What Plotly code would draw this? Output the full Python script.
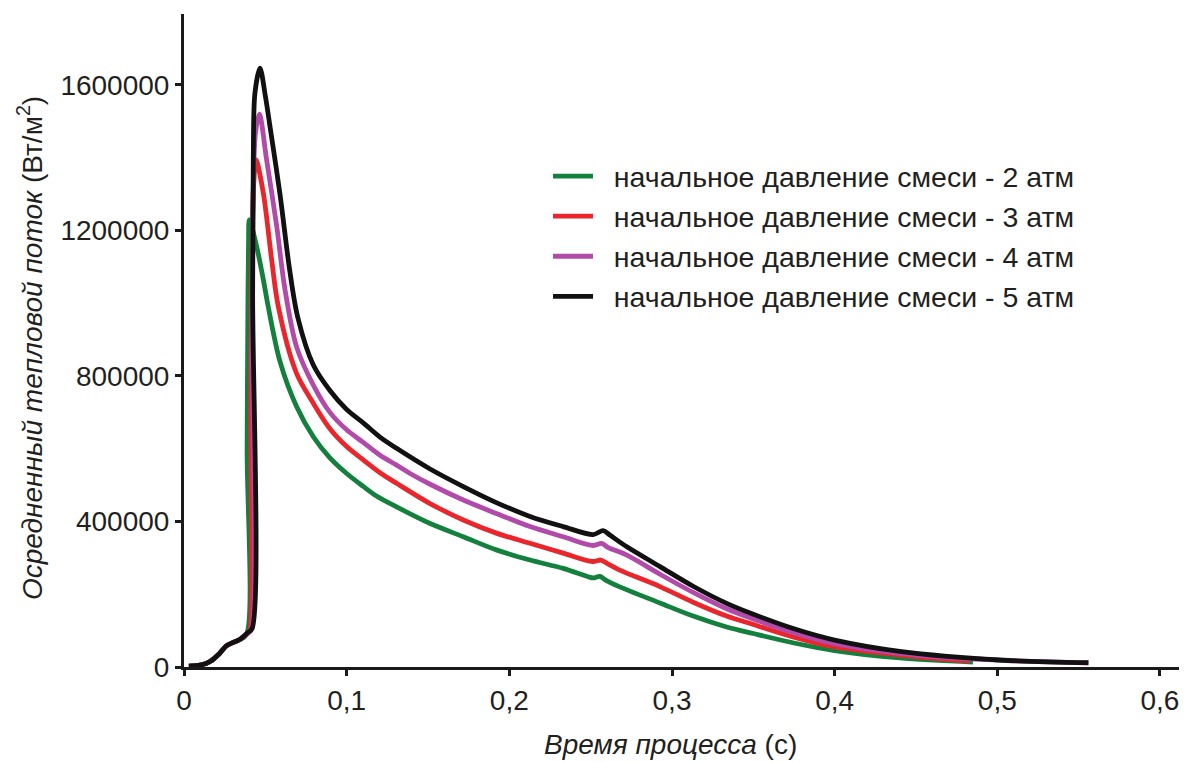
import plotly.graph_objects as go

# ---- data ----
t_2atm = [0.003, 0.010, 0.016, 0.022, 0.026, 0.030, 0.034, 0.0383, 0.0388, 0.0393, 0.0397, 0.0402,
          0.0447, 0.0488, 0.0518, 0.059, 0.0692, 0.0795, 0.0897, 0.100, 0.110, 0.1183, 0.1307, 0.151,
          0.1717, 0.192, 0.2127, 0.2331, 0.2485, 0.2516, 0.2557, 0.2595, 0.2675, 0.2926, 0.313,
          0.3336, 0.350, 0.375, 0.400, 0.440, 0.485]
q_2atm = [2000, 5000, 15000, 38000, 58000, 67000, 75000, 88000, 600000, 1000000, 1170000, 1229000,
          1155000, 1064000, 990000, 840000, 716000, 633000, 575000, 532000, 497000, 470000, 440000, 395000,
          358000, 322000, 294000, 271000, 248000, 245000, 249000, 238000, 221000, 176000, 140000,
          110000, 92000, 66000, 45000, 25000, 13700]

t_3atm = [0.003, 0.010, 0.016, 0.022, 0.026, 0.030, 0.034, 0.0385, 0.0403, 0.0410, 0.0418, 0.0430,
          0.0443, 0.0488, 0.0539, 0.058, 0.0692, 0.0795, 0.0897, 0.100, 0.110, 0.1205, 0.1307, 0.151,
          0.1717, 0.192, 0.2127, 0.2331, 0.2511, 0.2562, 0.2600, 0.2675, 0.2926, 0.313, 0.3336,
          0.350, 0.375, 0.400, 0.440, 0.483]
q_3atm = [2000, 5000, 15000, 38000, 58000, 67000, 75000, 90000, 100000, 700000, 1150000, 1340000,
          1394000, 1302000, 1119000, 990000, 807000, 725000, 655000, 606000, 570000, 534000, 505000, 450000,
          404000, 368000, 340000, 313000, 290000, 294000, 285000, 267000, 221000, 178000, 140000,
          117000, 82000, 55000, 33000, 16000]

t_4atm = [0.003, 0.010, 0.016, 0.022, 0.026, 0.030, 0.034, 0.039, 0.0413, 0.0418, 0.0425, 0.0440,
          0.0463, 0.0508, 0.057, 0.062, 0.0692, 0.0795, 0.0897, 0.100, 0.110, 0.1205, 0.1307, 0.139,
          0.151, 0.1717, 0.192, 0.2127, 0.2331, 0.2516, 0.2567, 0.2605, 0.272, 0.2926, 0.313, 0.3336,
          0.350, 0.375, 0.400, 0.450, 0.500, 0.556]
q_4atm = [2000, 5000, 15000, 38000, 58000, 67000, 75000, 92000, 102000, 900000, 1300000, 1470000,
          1520000, 1394000, 1211000, 1040000, 880000, 775000, 700000, 652000, 618000, 582000, 555000, 532000,
          503000, 459000, 422000, 386000, 358000, 334000, 340000, 329000, 308000, 255000, 205000, 160000,
          132000, 94000, 64000, 33000, 19000, 11000]

t_5atm = [0.003, 0.010, 0.016, 0.022, 0.026, 0.030, 0.034, 0.039, 0.0418, 0.0422, 0.0426, 0.0436,
          0.0467, 0.0500, 0.0529, 0.059, 0.065, 0.070, 0.0795, 0.0897, 0.100, 0.110, 0.1205, 0.1307,
          0.151, 0.1717, 0.192, 0.2127, 0.2331, 0.2516, 0.2577, 0.2620, 0.272, 0.2926, 0.313, 0.3336,
          0.350, 0.375, 0.400, 0.440, 0.5015, 0.556]
q_5atm = [2000, 5000, 15000, 38000, 58000, 67000, 75000, 94000, 105000, 1028000, 1394000, 1577000,
          1646000, 1570000, 1485000, 1300000, 1090000, 960000, 830000, 760000, 708000, 672000, 632000, 601000,
          545000, 496000, 452000, 414000, 386000, 364000, 375000, 362000, 331000, 276000, 222000, 175000,
          145000, 105000, 74000, 43000, 19200, 11800]

series_names = ["\u00a0\u00a0начальное давление смеси - 2 атм", "\u00a0\u00a0начальное давление смеси - 3 атм",
                "\u00a0\u00a0начальное давление смеси - 4 атм", "\u00a0\u00a0начальное давление смеси - 5 атм"]
series_colors = ["#13803d", "#e8262b", "#b24aa9", "#111111"]

x_ticks = [0, 0.1, 0.2, 0.3, 0.4, 0.5, 0.6]
x_tick_labels = ["0", "0,1", "0,2", "0,3", "0,4", "0,5", "0,6"]
y_ticks = [0, 400000, 800000, 1200000, 1600000]
y_tick_labels = ["0", "400000", "800000", "1200000", "1600000"]

x_title = "<i>Время процесса</i> (с)"
y_title = "<i>Осредненный тепловой поток</i> (Вт/м<sup>2</sup>)"

FONT = "Liberation Sans, Arial, sans-serif"
TXT = "#231f20"

fig = go.Figure()
for t, q, name, col in zip([t_2atm, t_3atm, t_4atm, t_5atm], [q_2atm, q_3atm, q_4atm, q_5atm],
                           series_names, series_colors):
    fig.add_trace(go.Scatter(x=t, y=q, mode="lines", name=name,
                             line=dict(color=col, width=4.8, shape="spline", smoothing=0.9)))

fig.update_layout(
    width=1179, height=754,
    margin=dict(l=176, r=7, t=6, b=95),
    paper_bgcolor="white", plot_bgcolor="white",
    font=dict(family=FONT, size=28, color=TXT),
    showlegend=True,
    legend=dict(x=0.3655, y=0.79, xanchor="left", yanchor="top",
                font=dict(family=FONT, size=28.5, color=TXT),
                bgcolor="rgba(0,0,0,0)", itemwidth=40),
    xaxis=dict(range=[0, 0.6123], tickvals=x_ticks, ticktext=x_tick_labels,
               showline=True, linecolor="#1a1a1a", linewidth=3, ticks="outside",
               ticklen=6, tickwidth=3, tickcolor="#1a1a1a", showgrid=False, zeroline=False,
               tickfont=dict(size=28)),
    yaxis=dict(range=[0, 1795000], tickvals=y_ticks, ticktext=y_tick_labels,
               showline=True, linecolor="#1a1a1a", linewidth=3, ticks="outside",
               ticklen=6, tickwidth=3, tickcolor="#1a1a1a", showgrid=False, zeroline=False,
               tickfont=dict(size=28)),
    annotations=[
        dict(text=x_title, xref="paper", yref="paper", x=0.488, y=-0.1194,
             xanchor="center", yanchor="middle", showarrow=False, font=dict(size=28)),
        dict(text=y_title, xref="paper", yref="paper", x=-0.1546, y=0.4885, textangle=-90,
             xanchor="center", yanchor="middle", showarrow=False, font=dict(size=28)),
    ],
)

fig.write_html("out.html")
